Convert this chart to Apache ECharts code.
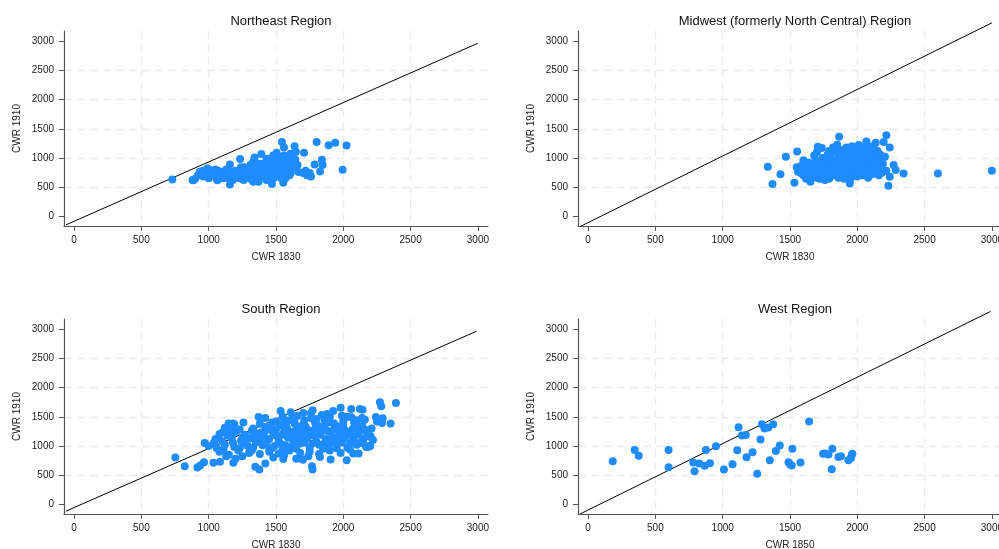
<!DOCTYPE html>
<html>
<head>
<meta charset="utf-8">
<script src="https://cdn.jsdelivr.net/npm/echarts@6/dist/echarts.min.js"></script>
<style>
  html, body { margin: 0; padding: 0; background: #fff; }
  #main { width: 999px; height: 549px; }
</style>
</head>
<body>
<div id="main"></div>
<script>
// tick labels shared by all panels
var tickValues = [0, 500, 1000, 1500, 2000, 2500, 3000];

var titles = ['Northeast Region', 'Midwest (formerly North Central) Region', 'South Region', 'West Region'];
var xNames = ['CWR 1830', 'CWR 1830', 'CWR 1830', 'CWR 1850'];
var yName = 'CWR 1910';

// reference lines, two ends each
var lineNE = [[-60, -150], [3000, 2970]];
var lineMW = [[-60, -180], [3000, 3320]];
var lineS = [[-60, -120], [2990, 2970]];
var lineW = [[-60, -170], [2990, 3310]];

var pointsNE = [
  [730, 630], [1544, 1271], [1559, 1179], [1638, 1202], [1648, 1105], [1708, 1088], [1802, 1271],
  [1891, 1219], [1940, 1260], [2024, 1214], [1995, 796], [1841, 968], [1846, 876], [1827, 767],
  [1787, 887], [1708, 750], [1668, 756], [1752, 693], [1233, 979], [1391, 1065], [1440, 985],
  [1480, 1042], [1505, 1088], [1485, 916], [1554, 1019], [1609, 1071], [1643, 973], [1341, 1008],
  [1158, 887], [1158, 544], [1470, 550], [1554, 573], [886, 618], [935, 761], [990, 819],
  [1064, 618], [1332, 590], [1371, 590],
  [900, 640], [920, 700], [940, 760], [960, 680], [980, 720], [1000, 800], [1000, 650], [990, 760],
  [1020, 700], [1040, 740], [1060, 640], [1070, 780], [1080, 700], [1100, 760], [1050, 680], [1090, 650],
  [1110, 720], [1130, 800], [1150, 650], [1170, 740], [1190, 700], [1200, 780], [1120, 680], [1180, 620],
  [1210, 720], [1230, 650], [1240, 840], [1250, 760], [1270, 690], [1280, 800], [1290, 720], [1260, 620], [1300, 750],
  [1310, 880], [1320, 680], [1330, 930], [1340, 760], [1350, 820], [1360, 640], [1370, 900], [1380, 720],
  [1390, 850], [1400, 680], [1410, 790], [1420, 720], [1440, 860], [1450, 650], [1460, 760], [1470, 700],
  [1480, 880], [1490, 800], [1500, 720], [1510, 950], [1520, 680], [1530, 780], [1540, 860], [1550, 730],
  [1560, 900], [1570, 650], [1580, 800], [1590, 760], [1600, 880], [1610, 740], [1620, 920], [1580, 980],
  [1530, 1020], [1700, 740], [1720, 780], [1730, 700], [1750, 740], [1760, 680], [1350, 700], [1430, 620],
  [960, 780], [1030, 760], [1110, 650], [1150, 780], [1220, 700], [1260, 840], [1290, 780], [1330, 800],
  [1380, 780], [1400, 900], [1420, 840], [1460, 820], [1500, 800], [1520, 880], [1560, 780], [1600, 700],
  [1630, 840], [1660, 880], [1310, 640], [1250, 700], [1190, 760], [1440, 740], [1480, 650], [1540, 650],
  [1360, 720], [1430, 980], [1470, 940], [1560, 1040], [1620, 1000], [1050, 800], [940, 700], [880, 620]
];

var pointsMW = [
  [1335, 847], [1370, 550], [1429, 721], [1469, 1019], [1553, 1111], [1533, 573], [1652, 590],
  [1706, 1191], [1736, 1168], [1850, 1225], [1865, 1363], [1944, 561], [2216, 1391], [2196, 1271],
  [2241, 1179], [2231, 521], [2241, 676], [2270, 876], [2285, 790], [2344, 733], [2599, 733],
  [3000, 779], [2067, 1282], [2137, 1260], [2206, 1019], [2216, 779],
  [1560, 760], [1580, 860], [1600, 700], [1620, 820], [1640, 920], [1650, 680], [1670, 780], [1680, 1040],
  [1690, 860], [1700, 720], [1710, 940], [1720, 640], [1730, 820], [1740, 1000], [1750, 700], [1760, 880],
  [1770, 760], [1780, 1060], [1790, 640], [1800, 820], [1810, 940], [1820, 700], [1830, 1100], [1840, 780],
  [1850, 880], [1860, 660], [1870, 1000], [1880, 740], [1890, 1140], [1900, 840], [1910, 940], [1920, 700],
  [1930, 1060], [1940, 780], [1950, 880], [1960, 1200], [1970, 720], [1980, 980], [1990, 840], [2000, 1100],
  [2010, 760], [2020, 920], [2030, 1180], [2040, 700], [2050, 1020], [2060, 860], [2070, 1240], [2080, 780],
  [2090, 960], [2100, 1120], [2110, 720], [2120, 880], [2130, 1040], [2140, 760], [2150, 960], [2160, 820],
  [2170, 1060], [2180, 740], [2190, 900], [2200, 780], [1800, 1000], [1850, 1160], [1900, 1040], [1950, 1000],
  [2000, 900], [2050, 800], [1750, 940], [1700, 800], [1650, 840], [1900, 740], [2000, 680], [2100, 1000],
  [1850, 720], [1950, 640], [1780, 900], [1880, 960], [1980, 1150], [2040, 1100], [2120, 1200], [1920, 1180],
  [1820, 1180], [1700, 1100], [1600, 960], [1760, 620], [1640, 740], [2080, 660], [2160, 700],
  [1660, 760], [1690, 940], [1720, 880], [1740, 780], [1770, 980], [1790, 720], [1810, 860], [1830, 800],
  [1840, 960], [1860, 780], [1870, 860], [1890, 820], [1900, 900], [1920, 800], [1930, 960], [1940, 860],
  [1960, 760], [1970, 920], [1990, 780], [2000, 1000], [2010, 860], [2030, 820], [2040, 940], [2060, 780],
  [2070, 1040], [2090, 840], [2100, 760], [2110, 940], [2130, 800], [2140, 900], [1920, 1080], [2010, 1220],
  [2100, 1180], [1790, 1120], [1880, 1080], [1610, 880], [1580, 740], [1620, 640], [1860, 1000], [1960, 1100],
  [2060, 1140], [2150, 1120], [2180, 980], [1550, 840], [1700, 660], [1800, 680], [1900, 640], [2000, 760],
  [2150, 860]
];

var pointsS = [
  [752, 800], [822, 651], [916, 629], [936, 663], [965, 720], [970, 1051], [1035, 709], [1084, 726],
  [1148, 1383], [1183, 709], [1258, 1400], [1346, 640], [1376, 594], [1371, 1497], [1421, 697],
  [1535, 1600], [1609, 1577], [1629, 1497], [1703, 1566], [1767, 651], [1772, 1611], [1772, 594],
  [1827, 811], [1906, 766], [1980, 1657], [2025, 754], [2059, 1634], [2074, 869], [2123, 1634],
  [2143, 1623], [2114, 869], [2183, 983], [2193, 994], [2272, 1749], [2282, 1680], [2292, 1474],
  [2287, 1394], [2351, 1383], [2391, 1737], [2242, 1497], [2158, 1269], [2203, 1166], [1554, 777],
  [1673, 789], [1183, 1383], [1925, 1600],
  [1080, 900], [1150, 850], [1220, 920], [1300, 880], [1380, 860], [1450, 900], [1520, 870], [1600, 920],
  [1680, 880], [1750, 900], [1820, 860], [1900, 920], [1980, 880], [2050, 940], [1250, 820], [1480, 800],
  [1650, 780], [1560, 840], [1740, 820], [1700, 760], [1130, 820], [1200, 780],
  [1000, 1000], [1060, 960], [1120, 1020], [1190, 980], [1260, 1040], [1330, 970], [1400, 1010], [1470, 960],
  [1540, 1030], [1610, 980], [1680, 1040], [1750, 970], [1820, 1020], [1890, 980], [1960, 1040], [2030, 970],
  [2100, 1020], [2170, 980], [2200, 1000], [1040, 1060],
  [1050, 1120], [1100, 1080], [1170, 1140], [1240, 1090], [1310, 1130], [1380, 1070], [1450, 1120], [1520, 1080],
  [1590, 1140], [1660, 1090], [1730, 1130], [1800, 1070], [1870, 1120], [1940, 1090], [2010, 1140], [2080, 1080],
  [2150, 1130], [2220, 1100],
  [1080, 1200], [1140, 1180], [1200, 1240], [1270, 1190], [1340, 1230], [1410, 1170], [1480, 1220], [1550, 1190],
  [1620, 1240], [1690, 1180], [1760, 1230], [1830, 1190], [1900, 1240], [1970, 1180], [2040, 1230], [2110, 1190],
  [2180, 1240],
  [1150, 1300], [1230, 1280], [1330, 1300], [1420, 1330], [1500, 1280], [1580, 1320], [1650, 1270], [1720, 1330],
  [1790, 1290], [1860, 1340], [1930, 1280], [2000, 1320], [2070, 1290], [2140, 1340], [2210, 1300],
  [1380, 1380], [1470, 1400], [1560, 1420], [1640, 1380], [1710, 1440], [1790, 1400], [1860, 1450], [1930, 1390],
  [2000, 1430], [2080, 1400], [2160, 1450], [2250, 1420], [1190, 1370],
  [1550, 1500], [1660, 1520], [1760, 1480], [1840, 1530], [1900, 1500], [1990, 1520], [2060, 1490], [2140, 1480],
  [1420, 1480],
  [1290, 1000], [1360, 1150], [1430, 1050], [1500, 1180], [1570, 1010], [1640, 1160], [1710, 1060], [1780, 1180],
  [1850, 1030], [1920, 1160], [1990, 1060], [2060, 1180], [2130, 1060], [1320, 1260], [1390, 1230], [1460, 1280],
  [1530, 1350], [1600, 1250], [1670, 1330], [1740, 1270], [1810, 1350], [1880, 1260], [1950, 1340], [2020, 1250],
  [2090, 1350], [2160, 1280], [1280, 1120], [1350, 1060], [1420, 1260], [1490, 1000], [1560, 1240], [1630, 1050],
  [1700, 1230], [1770, 1040], [1840, 1260], [1910, 1060], [1980, 1250], [2050, 1050], [2120, 1250], [2190, 1160],
  [1110, 940], [1180, 1060], [1250, 1140], [1600, 1440], [1700, 1360], [1800, 1460], [1900, 1400], [2000, 1380],
  [2100, 1440], [1500, 1420], [1450, 930], [1550, 950], [1650, 950], [1850, 950], [1950, 960], [2150, 1040],
  [1230, 960], [1320, 920], [1170, 1260], [1120, 1310], [1760, 1560], [1640, 1480], [1880, 1550], [2030, 1500],
  [1100, 1230]
];

var pointsW = [
  [183, 737], [346, 931], [376, 829], [598, 931], [598, 634], [781, 714], [791, 566], [826, 697],
  [866, 657], [875, 931], [905, 703], [950, 994], [1009, 594], [1073, 686], [1108, 926], [1118, 1320],
  [1143, 1177], [1172, 1189], [1177, 806], [1222, 891], [1256, 520], [1281, 1109], [1291, 1371],
  [1311, 1297], [1340, 1314], [1375, 1371], [1350, 754], [1395, 914], [1424, 1006], [1489, 720],
  [1499, 686], [1513, 663], [1518, 949], [1578, 714], [1642, 1417], [1746, 863], [1761, 869],
  [1786, 851], [1810, 600], [1815, 949], [1860, 811], [1879, 823], [1934, 754], [1953, 794],
  [1963, 863], [1958, 840]
];

var gridPos = [
  { left: 64, top: 31 },
  { left: 578, top: 31 },
  { left: 64, top: 319 },
  { left: 578, top: 319 }
];

var font = 'Liberation Sans, Arial, sans-serif';

function makeAxis(kind, i, name) {
  var isX = kind === 'x';
  return {
    type: 'value',
    gridIndex: i,
    min: isX ? -75 : -170,
    max: isX ? 3075 : 3180,
    name: name,
    nameLocation: 'middle',
    nameGap: isX ? 26 : 42,
    nameTextStyle: { fontFamily: font, fontSize: 10, color: '#222' },
    axisLine: { show: true, onZero: false, lineStyle: { color: '#555', width: 1.2 } },
    axisTick: { show: true, length: 5, customValues: tickValues, lineStyle: { color: '#555' } },
    axisLabel: {
      customValues: tickValues,
      formatter: function (v) { return String(v); },
      fontFamily: font, fontSize: 10, color: '#222', margin: isX ? 9 : 10
    },
    splitLine: {
      show: true, showMinLine: false, showMaxLine: false,
      lineStyle: { color: '#ebebeb', type: [8, 5], width: 1.3 }
    }
  };
}

var option = {
  animation: false,
  backgroundColor: '#fff',
  title: [],
  grid: [],
  xAxis: [],
  yAxis: [],
  series: []
};

var allPoints = [pointsNE, pointsMW, pointsS, pointsW];
var allLines = [lineNE, lineMW, lineS, lineW];

for (var i = 0; i < 4; i++) {
  option.grid.push({
    left: gridPos[i].left, top: gridPos[i].top, width: 424, height: 195,
    outerBoundsMode: 'none', containLabel: false
  });
  option.title.push({
    text: titles[i],
    left: gridPos[i].left + 212,
    top: gridPos[i].top - 21,
    textAlign: 'center',
    textStyle: { fontFamily: font, fontSize: 13, fontWeight: 'normal', color: '#111' }
  });
  option.xAxis.push(makeAxis('x', i, xNames[i]));
  option.yAxis.push(makeAxis('y', i, yName));
  option.series.push({
    type: 'line',
    xAxisIndex: i,
    yAxisIndex: i,
    data: allLines[i],
    symbol: 'none',
    clip: false,
    lineStyle: { color: '#000', width: 1 },
    z: 1
  });
  option.series.push({
    type: 'scatter',
    xAxisIndex: i,
    yAxisIndex: i,
    data: allPoints[i],
    symbolSize: 8,
    itemStyle: { color: '#1e8cff', opacity: 1 },
    z: 2
  });
}

var myChart = echarts.init(document.getElementById('main'), null, { renderer: 'canvas' });
myChart.setOption(option);
</script>
</body>
</html>
